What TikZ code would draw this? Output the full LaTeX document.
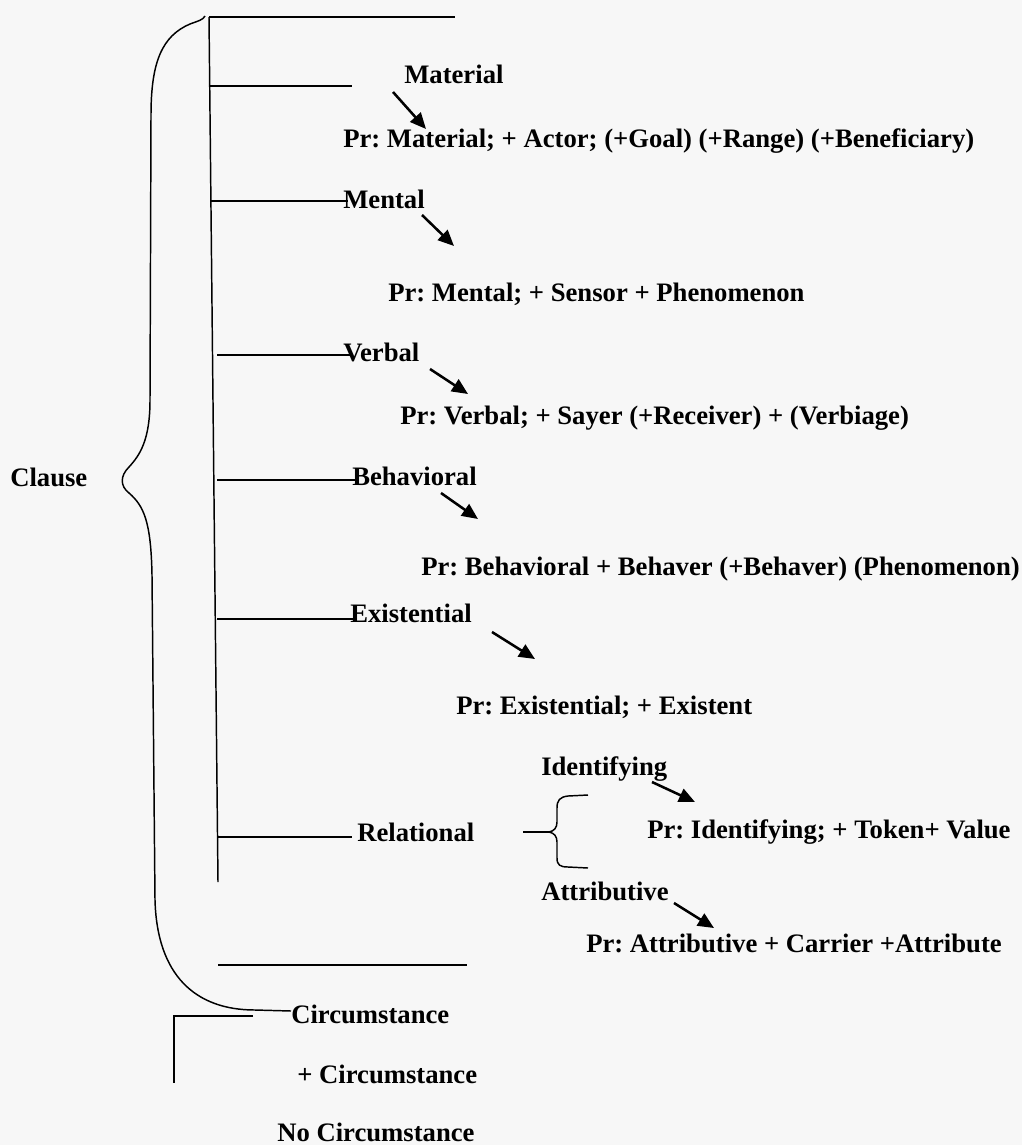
\documentclass[tikz,border=0pt]{standalone}
\usepackage{fontspec}
\setmainfont{Liberation Serif}
\usetikzlibrary{arrows.meta}
\begin{document}
\frenchspacing
\begin{tikzpicture}[x=0.75pt,y=-0.75pt,
  lbl/.style={anchor=base west,inner sep=0pt,font=\fontsize{20}{24}\selectfont\bfseries},
  ln/.style={line width=1.1pt},
  arr/.style={line width=1.9pt,-{Triangle[length=12pt,width=10.5pt]}}]
\fill[white!97!black] (0,0) rectangle (1022,1145);
\useasboundingbox (0,0) rectangle (1022,1145);

% labels
\node[lbl] (clause) at (10,486) {Clause};
\node[lbl] (material) at (404,84) {Material};
\node[lbl] (prmat) at (343,148) {Pr: Material; + Actor; (+Goal) (+Range) (+Beneficiary)};
\node[lbl] (mental) at (343,209) {Mental};
\node[lbl] (prment) at (388,301) {Pr: Mental; + Sensor + Phenomenon};
\node[lbl] (verbal) at (343,361) {Verbal};
\node[lbl] (prverb) at (400,424) {Pr: Verbal; + Sayer (+Receiver) + (Verbiage)};
\node[lbl] (behav) at (352,485) {Behavioral};
\node[lbl] (prbehav) at (421,575) {Pr: Behavioral + Behaver (+Behaver) (Phenomenon)};
\node[lbl] (exist) at (350,622) {Existential};
\node[lbl] (prexist) at (456,714) {Pr: Existential; + Existent};
\node[lbl] (ident) at (541,775) {Identifying};
\node[lbl] (relat) at (357,841) {Relational};
\node[lbl] (prident) at (647,838) {Pr: Identifying; + Token+ Value};
\node[lbl] (attr) at (541,900) {Attributive};
\node[lbl] (prattr) at (586,952) {Pr: Attributive + Carrier +Attribute};
\node[lbl] (circ) at (291,1023) {Circumstance};
\node[lbl] (pcirc) at (297,1083) {+ Circumstance};
\node[lbl] (nocirc) at (277,1141) {No Circumstance};

% main vertical and branches
\coordinate (vtop) at (209,17);
\coordinate (vbot) at (218,882);
\draw[ln] (vtop) -- (vbot);
\coordinate (topend) at (455,17);
\draw[ln] (vtop) -- (topend);
\coordinate (bmat) at (210,86);
\coordinate (bmatE) at (352,86);
\draw[ln] (bmat) -- (bmatE);
\coordinate (bment) at (211,201);
\draw[ln] (bment) -- ([xshift=4]bment -| mental.west);
\coordinate (bverb) at (217,355);
\draw[ln] (bverb) -- ([xshift=6]bverb -| verbal.west);
\coordinate (bbeh) at (217,480);
\draw[ln] (bbeh) -- ([xshift=3]bbeh -| behav.west);
\coordinate (bex) at (217,619);
\draw[ln] (bex) -- ([xshift=4]bex -| exist.west);
\coordinate (brel) at (217,837);
\coordinate (brelE) at (352,837);
\draw[ln] (brel) -- (brelE);
\coordinate (bl1) at (218,965);
\coordinate (bl2) at (467,965);
\draw[ln] (bl1) -- (bl2);

% Clause brace
\draw[ln] (205,16) .. controls (203,20) and (198,21) .. (190,24)
  .. controls (162,36) and (151,62) .. (151,115) -- (150,400)
  .. controls (150,440) and (140,455) .. (129,467)
  .. controls (120,476) and (120,486) .. (129,493)
  .. controls (144,506) and (151,522) .. (152,575) -- (155,900)
  .. controls (157,975) and (195,1010) .. (255,1010) -- (291,1011);

% arrows
\coordinate (a1s) at (393,92);  \coordinate (a1e) at (426,129);
\draw[arr] (a1s) -- (a1e);
\coordinate (a2s) at (422,215); \coordinate (a2e) at (454,246);
\draw[arr] (a2s) -- (a2e);
\coordinate (a3s) at (430,369); \coordinate (a3e) at (468,394);
\draw[arr] (a3s) -- (a3e);
\coordinate (a4s) at (441,493); \coordinate (a4e) at (478,519);
\draw[arr] (a4s) -- (a4e);
\coordinate (a5s) at (492,632); \coordinate (a5e) at (535,659);
\draw[arr] (a5s) -- (a5e);
\coordinate (a6s) at (652,782); \coordinate (a6e) at (695,802);
\draw[arr] (a6s) -- (a6e);
\coordinate (a7s) at (674,903); \coordinate (a7e) at (714,928);
\draw[arr] (a7s) -- (a7e);

% Relational brace
\coordinate (rt1) at (523,832);
\coordinate (rcusp) at (549,832);
\draw[ln] (rt1) -- (rcusp);
\draw[ln] (588,795) -- (568,796) .. controls (560,797) and (557,800) .. (557,808) -- (557,822)
  .. controls (557,828) and (554,831) .. (rcusp)
  .. controls (554,833) and (557,836) .. (557,842) -- (557,858)
  .. controls (557,865) and (560,867) .. (568,867) -- (588,868);

% circumstance bracket
\coordinate (c1) at (253,1016);
\coordinate (c2) at (174,1016);
\coordinate (c3) at (174,1083);
\draw[ln] (c1) -- (c2) -- (c3);
\end{tikzpicture}
\end{document}
